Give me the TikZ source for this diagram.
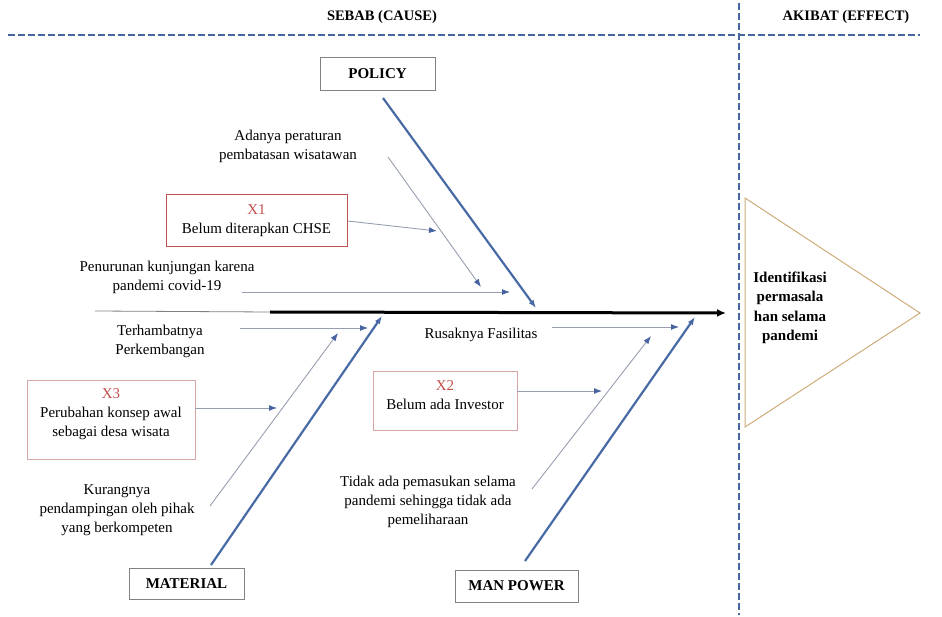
\documentclass[tikz,border=0pt]{standalone}
\usepackage{fontspec}
\setmainfont{Liberation Serif}
\usetikzlibrary{arrows.meta}
\definecolor{dashblue}{RGB}{70,102,160}
\definecolor{bonecol}{RGB}{72,106,165}
\definecolor{subline}{RGB}{150,158,175}
\definecolor{headblue}{RGB}{72,100,160}
\definecolor{boxgray}{RGB}{130,130,130}
\definecolor{xred}{RGB}{192,80,77}
\definecolor{xpale}{RGB}{214,165,165}
\definecolor{tricol}{RGB}{205,172,122}
\begin{document}
\begin{tikzpicture}[x=1pt,y=-1pt,
  txt/.style={align=center,inner sep=0pt,font=\fontsize{15}{19}\selectfont},
  ttl/.style={inner sep=0pt,font=\fontsize{14.5}{18}\selectfont\bfseries},
  catbox/.style={draw=boxgray,line width=0.9pt,inner sep=0pt,font=\fontsize{15}{19}\selectfont\bfseries},
  xbox/.style={draw=xpale,line width=0.9pt,inner sep=0pt},
  xboxstrong/.style={draw=xred,line width=1pt,inner sep=0pt},
  divider/.style={dashblue,line width=2pt,dash pattern=on 7pt off 3pt},
  bone/.style={bonecol,line width=2.2pt,-{Latex[length=8pt,width=6pt]}},
  subarrow/.style={subline,line width=0.9pt,-{Latex[length=8pt,width=6pt,color=headblue]}},
  spinethin/.style={gray,line width=0.8pt},
  spinethick/.style={black,line width=3pt,-{Latex[length=9pt,width=8pt]}}
]
\useasboundingbox (0,0) rectangle (942,617);

% dividers
\coordinate (h0) at (8,35);
\coordinate (h1) at (920,35);
\coordinate (v0) at (739,3);
\coordinate (v1) at (739,615);
\draw[divider] (h0) -- (h1);
\draw[divider] (v0) -- (v1);

% titles
\node[ttl] (sebab) at (382,17) {SEBAB (CAUSE)};
\node[ttl] (akibat) at (846,17) {AKIBAT (EFFECT)};

% spine
\coordinate (s0) at (95,311);
\coordinate (s1) at (270,312);
\coordinate (s2) at (726,313);
\draw[spinethin] (s0) -- (s1);
\draw[spinethick] (s1) -- (s2);

% category boxes
\node[catbox,minimum width=115pt,minimum height=33pt] (policy) at (377.5,73.5) {POLICY};
\node[catbox,minimum width=115pt,minimum height=31pt] (material) at (186.5,583.5) {MATERIAL};
\node[catbox,minimum width=123pt,minimum height=32pt] (manpower) at (516.5,586) {MAN POWER};

% main bones
\coordinate (pb0) at (383,98);
\coordinate (pb1) at (536,308);
\coordinate (mb0) at (211,565);
\coordinate (mb1) at (382,316);
\coordinate (wb0) at (525,561);
\coordinate (wb1) at (695,317);
\draw[bone] (pb0) -- (pb1);
\draw[bone] (mb0) -- (mb1);
\draw[bone] (wb0) -- (wb1);

% POLICY causes
\node[txt] (adanya) at (288,146) {Adanya peraturan\\pembatasan wisatawan};
\coordinate (a0) at (388,157);
\coordinate (a1) at (481,287);
\draw[subarrow] (a0) -- (a1);

\node[xboxstrong,minimum width=181pt,minimum height=52pt] (x1box) at (256.5,221) {};
\node[txt] (x1) at (256.5,221) {\textcolor{xred}{X1}\\Belum diterapkan CHSE};
\coordinate (x1a) at (437,231);
\draw[subarrow] (x1box.east) -- (x1a);

\node[txt] (penurunan) at (167,277) {Penurunan kunjungan karena\\pandemi covid-19};
\coordinate (pn0) at (242,292);
\coordinate (pn1) at (510,292);
\draw[subarrow] (pn0) -- (pn1);

% MATERIAL causes
\node[txt] (terhambat) at (160,341) {Terhambatnya\\Perkembangan};
\coordinate (t0) at (240,328);
\coordinate (t1) at (368,328);
\draw[subarrow] (t0) -- (t1);

\node[xbox,minimum width=168pt,minimum height=79pt] (x3box) at (111,419.5) {};
\node[txt] (x3) at (111,414) {\textcolor{xred}{X3}\\Perubahan konsep awal\\sebagai desa wisata};
\coordinate (x3a) at (277,408);
\draw[subarrow] (x3box.east |- x3a) -- (x3a);

\node[txt] (kurang) at (117,510) {Kurangnya\\pendampingan oleh pihak\\yang berkompeten};
\coordinate (k0) at (210,506);
\coordinate (k1) at (338,333);
\draw[subarrow] (k0) -- (k1);

% MAN POWER causes
\node[txt] (rusak) at (481,335) {Rusaknya Fasilitas};
\coordinate (r0) at (552,327);
\coordinate (r1) at (679,327);
\draw[subarrow] (r0) -- (r1);

\node[xbox,minimum width=144pt,minimum height=59pt] (x2box) at (445,400.5) {};
\node[txt] (x2) at (445,395.5) {\textcolor{xred}{X2}\\Belum ada Investor};
\coordinate (x2a) at (602,391);
\draw[subarrow] (x2box.east |- x2a) -- (x2a);

\node[txt] (tidak) at (428,502) {Tidak ada pemasukan selama\\pandemi sehingga tidak ada\\pemeliharaan};
\coordinate (d0) at (532,489);
\coordinate (d1) at (651,336);
\draw[subarrow] (d0) -- (d1);

% effect
\coordinate (tA) at (745,198);
\coordinate (tB) at (745,427);
\coordinate (tC) at (920,313);
\draw[tricol,line width=1pt,line join=miter] (tA) -- (tB) -- (tC) -- cycle;
\node[txt,font=\fontsize{15}{19.5}\selectfont\bfseries] (effect) at (790,308) {Identifikasi\\permasala\\han selama\\pandemi};
\end{tikzpicture}
\end{document}
